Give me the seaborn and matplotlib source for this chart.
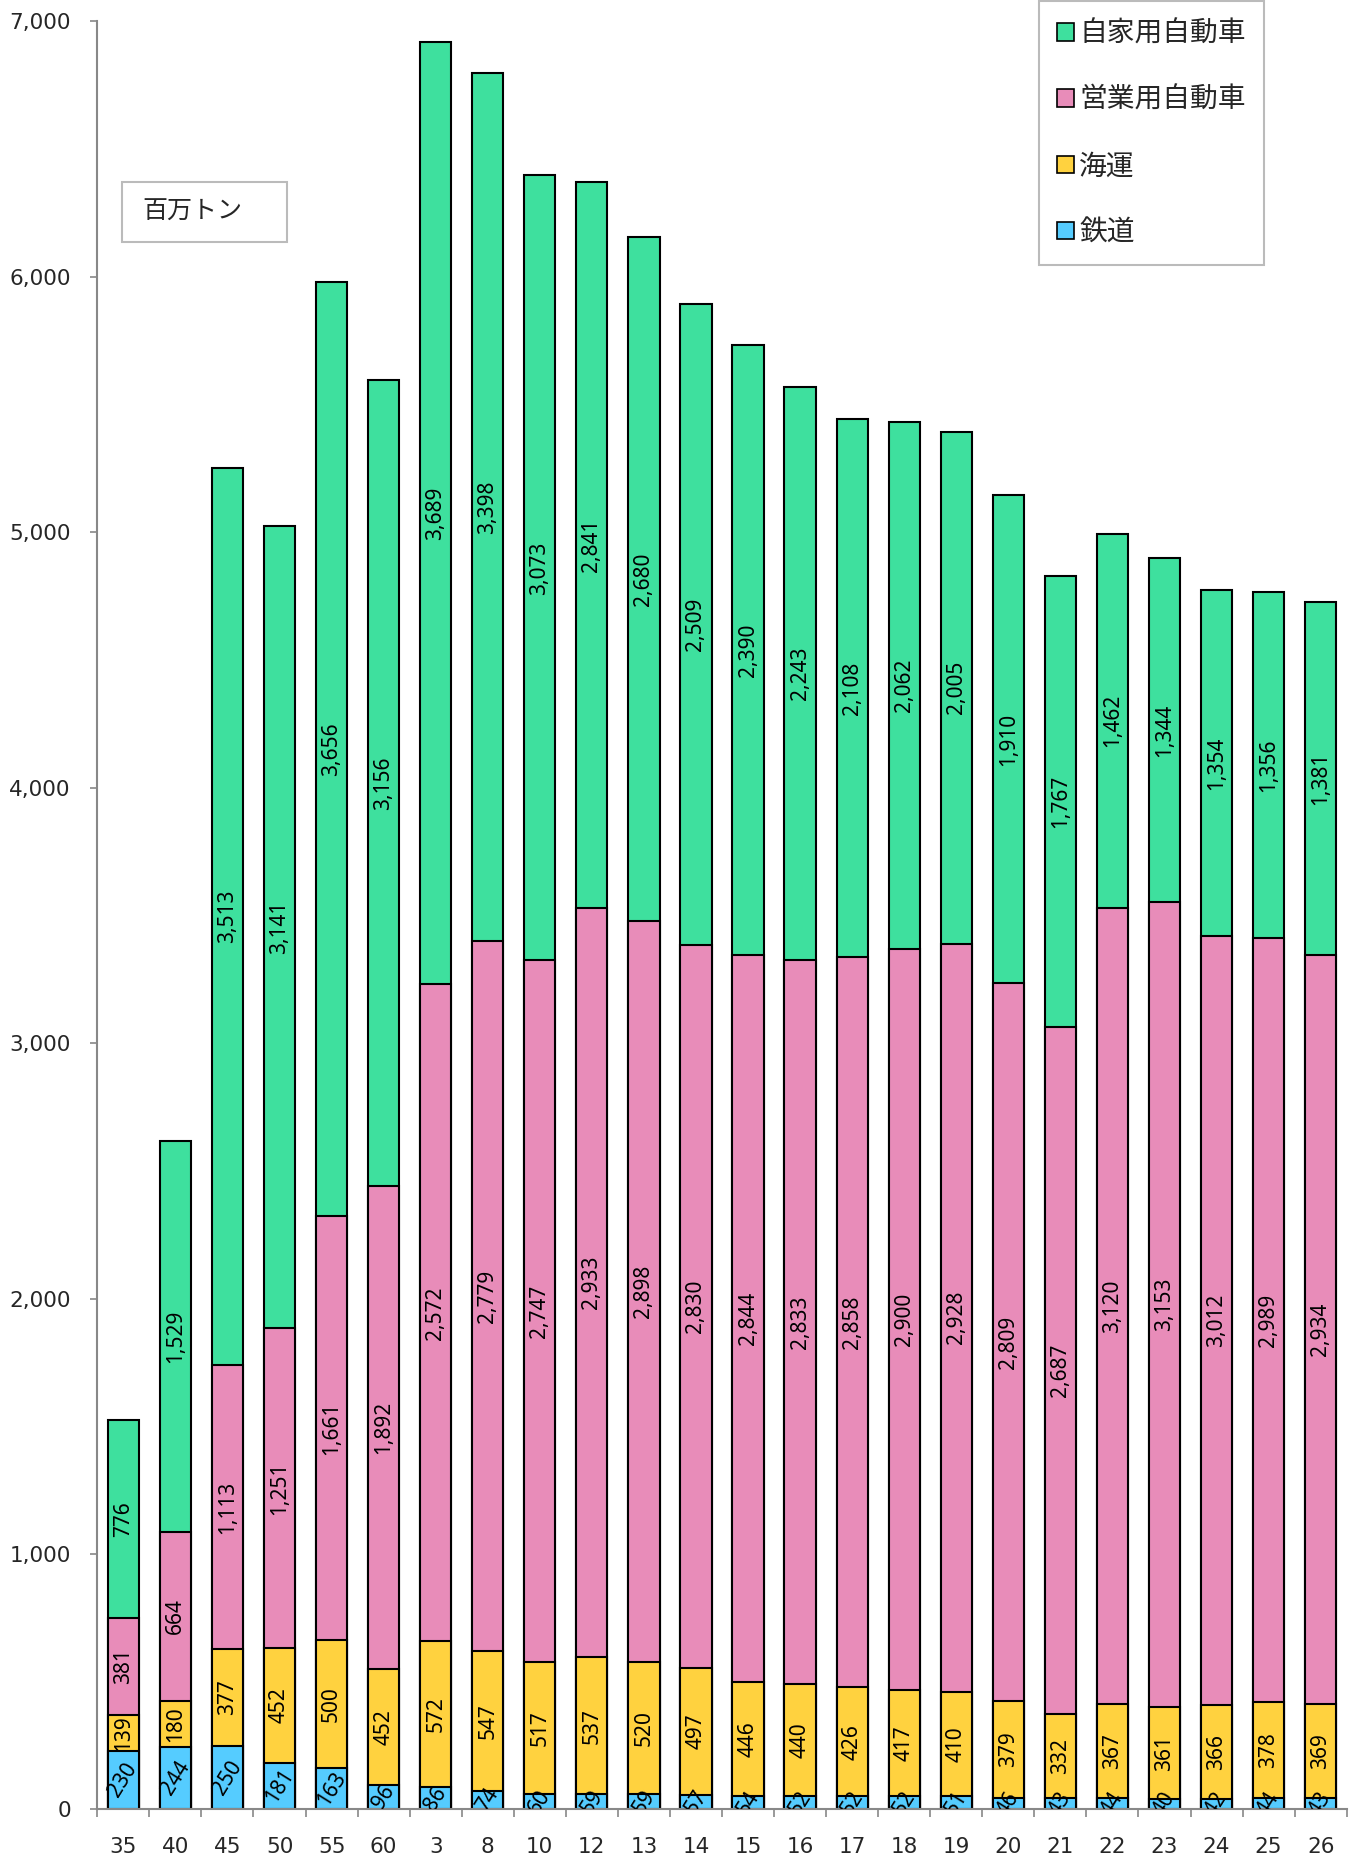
import numpy as np
import pandas as pd
import matplotlib
matplotlib.use("Agg")
import matplotlib.pyplot as plt
from matplotlib.patches import Patch, Rectangle
from matplotlib.ticker import FuncFormatter, FixedLocator
import seaborn as sns

# -------------------------
# Data (百万トン)
# -------------------------
years = ["35", "40", "45", "50", "55", "60", "3", "8", "10", "12", "13", "14",
         "15", "16", "17", "18", "19", "20", "21", "22", "23", "24", "25", "26"]
rail = [230, 244, 250, 181, 163, 96, 86, 74, 60, 59, 59, 57,
        54, 52, 52, 52, 51, 46, 43, 44, 40, 42, 44, 43]
sea = [139, 180, 377, 452, 500, 452, 572, 547, 517, 537, 520, 497,
       446, 440, 426, 417, 410, 379, 332, 367, 361, 366, 378, 369]
commercial = [381, 664, 1113, 1251, 1661, 1892, 2572, 2779, 2747, 2933, 2898, 2830,
              2844, 2833, 2858, 2900, 2928, 2809, 2687, 3120, 3153, 3012, 2989, 2934]
private = [776, 1529, 3513, 3141, 3656, 3156, 3689, 3398, 3073, 2841, 2680, 2509,
           2390, 2243, 2108, 2062, 2005, 1910, 1767, 1462, 1344, 1354, 1356, 1381]

labels = ["自家用自動車", "営業用自動車", "海運", "鉄道"]
colors = ["#3EE09E", "#E88CB9", "#FFD23F", "#55CCFF"]

df = pd.DataFrame({"year": years, "rail": rail, "sea": sea,
                   "commercial": commercial, "private": private})
df["c_rail"] = df["rail"]
df["c_sea"] = df["c_rail"] + df["sea"]
df["c_com"] = df["c_sea"] + df["commercial"]
df["c_priv"] = df["c_com"] + df["private"]

sns.set_style("white")
plt.rcParams["font.family"] = ["DejaVu Sans"]
jp = ["Noto Sans CJK JP", "DejaVu Sans"]

fig = plt.figure(figsize=(13.61, 18.61), dpi=100)
ax = fig.add_axes([0.0715, 0.0277, 0.918, 0.9608])

# stacked via overlaid cumulative bars (top layer first)
for col, c in zip(["c_priv", "c_com", "c_sea", "c_rail"], colors):
    sns.barplot(data=df, x="year", y=col, order=years, color=c, saturation=1,
                width=0.6, edgecolor="black", linewidth=1.5, ax=ax)

# -------------------------
# Value labels
# -------------------------
layers = [("rail", "c_rail", 58), ("sea", "c_sea", 90),
          ("commercial", "c_com", 90), ("private", "c_priv", 90)]
for i in range(len(years)):
    for val_col, cum_col, rot in layers:
        v = df.loc[i, val_col]
        center = df.loc[i, cum_col] - v / 2
        ax.text(i, center, f"{v:,}", rotation=rot, ha="center", va="center",
                rotation_mode="anchor", fontsize=15, family="Noto Sans",
                color="black", clip_on=True)

# -------------------------
# Axes styling
# -------------------------
ax.set_ylim(0, 7000)
ax.set_xlim(-0.5, len(years) - 0.5)
ax.set_yticks(np.arange(0, 7001, 1000))
ax.yaxis.set_major_formatter(FuncFormatter(lambda v, p: f"{int(v):,}"))
ax.set_xlabel("")
ax.set_ylabel("")
ax.xaxis.set_minor_locator(FixedLocator(np.arange(-0.5, len(years), 1.0)))
ax.tick_params(axis="x", which="major", length=0, pad=20, labelsize=15.5)
ax.tick_params(axis="x", which="minor", length=6, width=1.2, color="#888888",
               direction="out", bottom=True)
ax.tick_params(axis="y", which="major", length=5, width=1.2, color="#888888",
               direction="out", left=True, pad=14, labelsize=15.5)
for s in ["top", "right"]:
    ax.spines[s].set_visible(False)
for s in ["left", "bottom"]:
    ax.spines[s].set_color("#888888")
    ax.spines[s].set_linewidth(1.5)

# unit box
fig.patches.append(Rectangle((0.0896, 0.870), 0.1212, 0.0322, transform=fig.transFigure,
                             facecolor="white", edgecolor="#BBBBBB", linewidth=1.5,
                             zorder=5))
fig.text(0.1045, 0.886, "百万トン", family=jp, fontsize=18, va="center", ha="left",
         zorder=6)

# legend
handles = [Patch(facecolor=c, edgecolor="black", linewidth=1.2) for c in colors]
leg = fig.legend(handles, labels, loc="upper left", bbox_to_anchor=(0.7634, 0.9995),
                 prop={"family": jp, "size": 20}, frameon=True, fancybox=False,
                 handlelength=0.6, handleheight=0.6, handletextpad=0.2,
                 labelspacing=1.3, borderpad=0.65, borderaxespad=0)
leg.get_frame().set_edgecolor("#AAAAAA")
leg.get_frame().set_linewidth(1.5)

fig.savefig("out.png", dpi=100)
